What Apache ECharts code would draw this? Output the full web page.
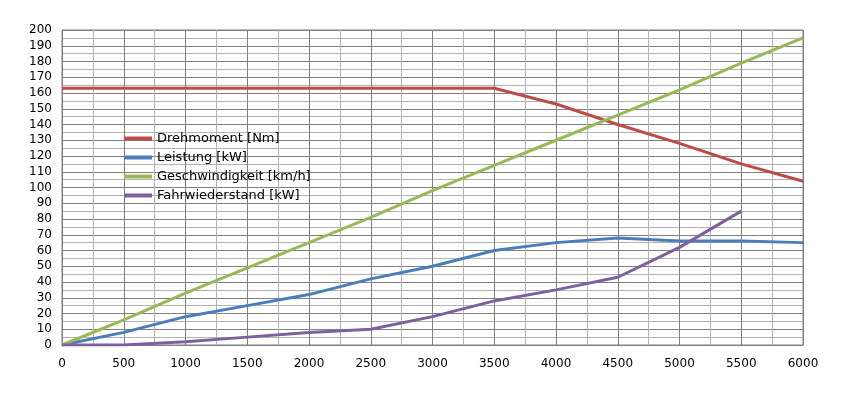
<!DOCTYPE html>
<html>
<head>
<meta charset="utf-8">
<script src="https://cdn.jsdelivr.net/npm/echarts@6/dist/echarts.min.js"></script>
<style>
  html, body { margin: 0; padding: 0; background: #fff; }
  #main { width: 844px; height: 397px; }
</style>
</head>
<body>
<div id="main"></div>
<script>
// Drehzahl [1/min]
var drehzahl = [0, 500, 1000, 1500, 2000, 2500, 3000, 3500, 4000, 4500, 5000, 5500, 6000];
var drehmoment = [163, 163, 163, 163, 163, 163, 163, 163, 153, 140, 128, 115, 104];
var leistung = [0, 8, 18, 25, 32, 42, 50, 60, 65, 68, 66, 66, 65];
var geschwindigkeit = [0, 16, 33, 49, 65, 81, 98, 114, 130, 146, 162, 179, 195];
var fahrwiderstand = [0, 0, 2, 5, 8, 10, 18, 28, 35, 43, 62, 85, null];
var serienNamen = ['Drehmoment [Nm]', 'Leistung [kW]', 'Geschwindigkeit [km/h]', 'Fahrwiederstand [kW]'];
var farben = ['#be4b48', '#4a7ebb', '#98b954', '#7d60a0'];

function paare(werte) {
  var out = [];
  for (var i = 0; i < drehzahl.length; i++) {
    if (werte[i] != null) out.push([drehzahl[i], werte[i]]);
  }
  return out;
}

var myChart = echarts.init(document.getElementById('main'));
var reihen = [drehmoment, leistung, geschwindigkeit, fahrwiderstand];

myChart.setOption({
  animation: false,
  color: farben,
  textStyle: { fontFamily: 'DejaVu Sans' },
  grid: { left: 62, right: 41, top: 30, bottom: 52, show: true, borderColor: '#808080', borderWidth: 1 },
  legend: {
    orient: 'vertical',
    left: 119,
    top: 127,
    itemWidth: 28,
    itemHeight: 4,
    itemGap: 6,
    icon: 'rect',
    textStyle: { fontSize: 13, color: '#000', fontFamily: 'DejaVu Sans' },
    data: serienNamen
  },
  xAxis: {
    type: 'value',
    min: 0,
    max: 6000,
    interval: 500,
    axisLine: { show: true, lineStyle: { color: '#808080' } },
    axisTick: { show: false },
    axisLabel: { color: '#000', fontSize: 12, margin: 13, formatter: function (v) { return String(v); } },
    splitLine: { show: true, lineStyle: { color: '#808080', width: 1 } },
    minorTick: { show: false, splitNumber: 2 },
    minorSplitLine: { show: true, lineStyle: { color: '#b3b3b3', width: 1 } }
  },
  yAxis: {
    type: 'value',
    min: 0,
    max: 200,
    interval: 10,
    axisLine: { show: true, lineStyle: { color: '#808080' } },
    axisTick: { show: false },
    axisLabel: { color: '#000', fontSize: 12, margin: 10 },
    splitLine: { show: true, lineStyle: { color: '#808080', width: 1 } },
    minorTick: { show: false, splitNumber: 2 },
    minorSplitLine: { show: true, lineStyle: { color: '#b3b3b3', width: 1 } }
  },
  series: reihen.map(function (werte, i) {
    return {
      name: serienNamen[i],
      type: 'line',
      data: paare(werte),
      showSymbol: false,
      symbol: 'none',
      lineStyle: { width: 3, color: farben[i] },
      itemStyle: { color: farben[i] }
    };
  })
});
</script>
</body>
</html>
